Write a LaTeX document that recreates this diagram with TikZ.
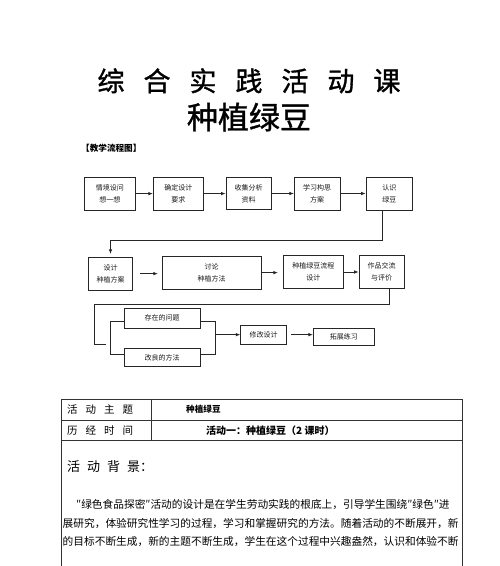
\documentclass[tikz,border=0pt]{standalone}
\usepackage{fontspec}
\setmainfont{Noto Sans CJK SC}
\newfontfamily\titlefont[BoldFont={Noto Sans CJK SC}, BoldFeatures={FakeBold=1.2}]{Noto Sans CJK SC}
\usetikzlibrary{arrows.meta}
\tikzset{
  fbox/.style={draw=black!85, line width=0.8pt, inner sep=0pt, align=center,
    font=\fontsize{7}{12}\selectfont, text=black!90},
  conn/.style={draw=black!85, line width=0.8pt},
  arr/.style={conn, -{Latex[length=4.5pt,width=3.6pt]}},
  tline/.style={draw=black!80, line width=1pt},
}
\begin{document}
\begin{tikzpicture}[x=1pt,y=-1pt]
\useasboundingbox (0,0) rectangle (500,566);
% titles
\node[inner sep=0pt, font=\titlefont\fontsize{27}{30}\selectfont\bfseries] (t1) at (249,80.8)
  {综\hspace{19pt}合\hspace{19pt}实\hspace{19pt}践\hspace{19pt}活\hspace{19pt}动\hspace{19pt}课};
\node[inner sep=0pt, font=\titlefont\fontsize{31}{34}\selectfont\bfseries] (t2) at (249,117) {种植绿豆};
\node[inner sep=0pt, anchor=west, font=\fontsize{8.6}{10}\selectfont\bfseries] (t3) at (81,148) {【教学流程图】};
% row 1
\node[fbox, minimum width=51.7pt, minimum height=32.7pt] (b1) at (109.85,193.65) {情境设问\\想一想};
\node[fbox, minimum width=50pt, minimum height=32.7pt] (b2) at (178.3,193.65) {确定设计\\要求};
\node[fbox, minimum width=45pt, minimum height=32.7pt] (b3) at (248.5,193.5) {收集分析\\资料};
\node[fbox, minimum width=45.7pt, minimum height=33pt] (b4) at (317.15,193.5) {学习构思\\方案};
\node[fbox, minimum width=46.7pt, minimum height=33pt] (b5) at (389.35,193.5) {认识\\绿豆};
% row 2
\node[fbox, minimum width=44.4pt, minimum height=32.7pt] (b6) at (110.5,273.65) {设计\\种植方案};
\node[fbox, minimum width=98.7pt, minimum height=33.3pt] (b7) at (211.65,272.65) {讨论\\种植方法};
\node[fbox, minimum width=60pt, minimum height=32.6pt] (b8) at (313.3,272) {种植绿豆流程\\设计};
\node[fbox, minimum width=45pt, minimum height=32.6pt] (b9) at (381.5,272) {作品交流\\与评价};
% row 3
\node[fbox, minimum width=75.7pt, minimum height=20pt] (p1) at (162.15,318.3) {存在的问题};
\node[fbox, minimum width=75.7pt, minimum height=18.4pt] (p2) at (162.15,357.5) {改良的方法};
\node[fbox, minimum width=46pt, minimum height=19.3pt] (m1) at (263.7,334.65) {修改设计};
\node[fbox, minimum width=61pt, minimum height=17.4pt] (m2) at (343.8,337) {拓展练习};
% connectors row 1
\draw[arr] (b1) -- (b2);
\draw[arr] (b2) -- (b3);
\draw[arr] (b3) -- (b4);
\draw[arr] (b4) -- (b5);
\coordinate (c1) at (382.7,240.7);
\draw[arr, shorten >=3pt] (b5.south -| c1) -- (c1) -| (b6.north);
% connectors row 2
\draw[arr, shorten <=6.6pt, shorten >=4pt] (b6.east) -- (b6.east -| b7.west);
\draw[arr, shorten >=5pt] (b7.east) -- (b7.east -| b8.west);
\draw[arr] (b8) -- (b9);
\coordinate (c2) at (389,304.3);
\coordinate (c3) at (94.3,304.3);
\coordinate (c4) at (94.3,344);
\coordinate (c5) at (106,344);
\draw[conn] (b9.south -| c2) -- (c2) -- (c3) -- (c4) -- (c5);
% brackets
\coordinate (l1) at (110,321.7);
\coordinate (l2) at (110,354);
\coordinate (r1) at (215,321.7);
\coordinate (r2) at (215,354);
\coordinate (r3) at (215,334.65);
\draw[conn] (p1.west |- l1) -- (l1) -- (l2) -- (p2.west |- l2);
\draw[conn] (p1.east |- r1) -- (r1) -- (r2) -- (p2.east |- r2);
\draw[arr] (r3) -- (m1.west);
\draw[arr, shorten <=4.3pt] (m1.east) -- (m1.east -| m2.west);
% table
\draw[tline] (61.7,566) -- (61.7,399.3) -- (462.5,399.3) -- (462.5,566);
\draw[tline] (61.7,420) -- (462.5,420);
\draw[tline] (61.7,440.7) -- (462.5,440.7);
\draw[tline] (151.7,399.3) -- (151.7,440.7);
\node[inner sep=0pt, anchor=west, font=\fontsize{10.5}{12}\selectfont] (r1a) at (67,409.7)
  {活\hspace{8pt}动\hspace{8pt}主\hspace{8pt}题};
\node[inner sep=0pt, anchor=west, font=\fontsize{8.6}{10}\selectfont\bfseries] (r1b) at (186,409.7) {种植绿豆};
\node[inner sep=0pt, anchor=west, font=\fontsize{10.5}{12}\selectfont] (r2a) at (67,430.3)
  {历\hspace{8pt}经\hspace{8pt}时\hspace{8pt}间};
\node[inner sep=0pt, anchor=west, font=\fontsize{10}{12}\selectfont\bfseries] (r2b) at (206,430.3) {活动一：种植绿豆（2 课时）};
\node[inner sep=0pt, anchor=west, font=\fontsize{13}{15}\selectfont] (bg) at (67,466.5)
  {活\hspace{7pt}动\hspace{7pt}背\hspace{7pt}景：};
\node[inner sep=0pt, anchor=west, font=\fontsize{10.7}{12}\selectfont] (p1l) at (76,505)
  {″绿色食品探密″活动的设计是在学生劳动实践的根底上，引导学生围绕″绿色″进};
\node[inner sep=0pt, anchor=west, font=\fontsize{10.7}{12}\selectfont] (p2l) at (62.5,523.3)
  {展研究，体验研究性学习的过程，学习和掌握研究的方法。随着活动的不断展开，新};
\node[inner sep=0pt, anchor=west, font=\fontsize{10.7}{12}\selectfont] (p3l) at (62.5,541.8)
  {的目标不断生成，新的主题不断生成，学生在这个过程中兴趣盎然，认识和体验不断};
\end{tikzpicture}
\end{document}
